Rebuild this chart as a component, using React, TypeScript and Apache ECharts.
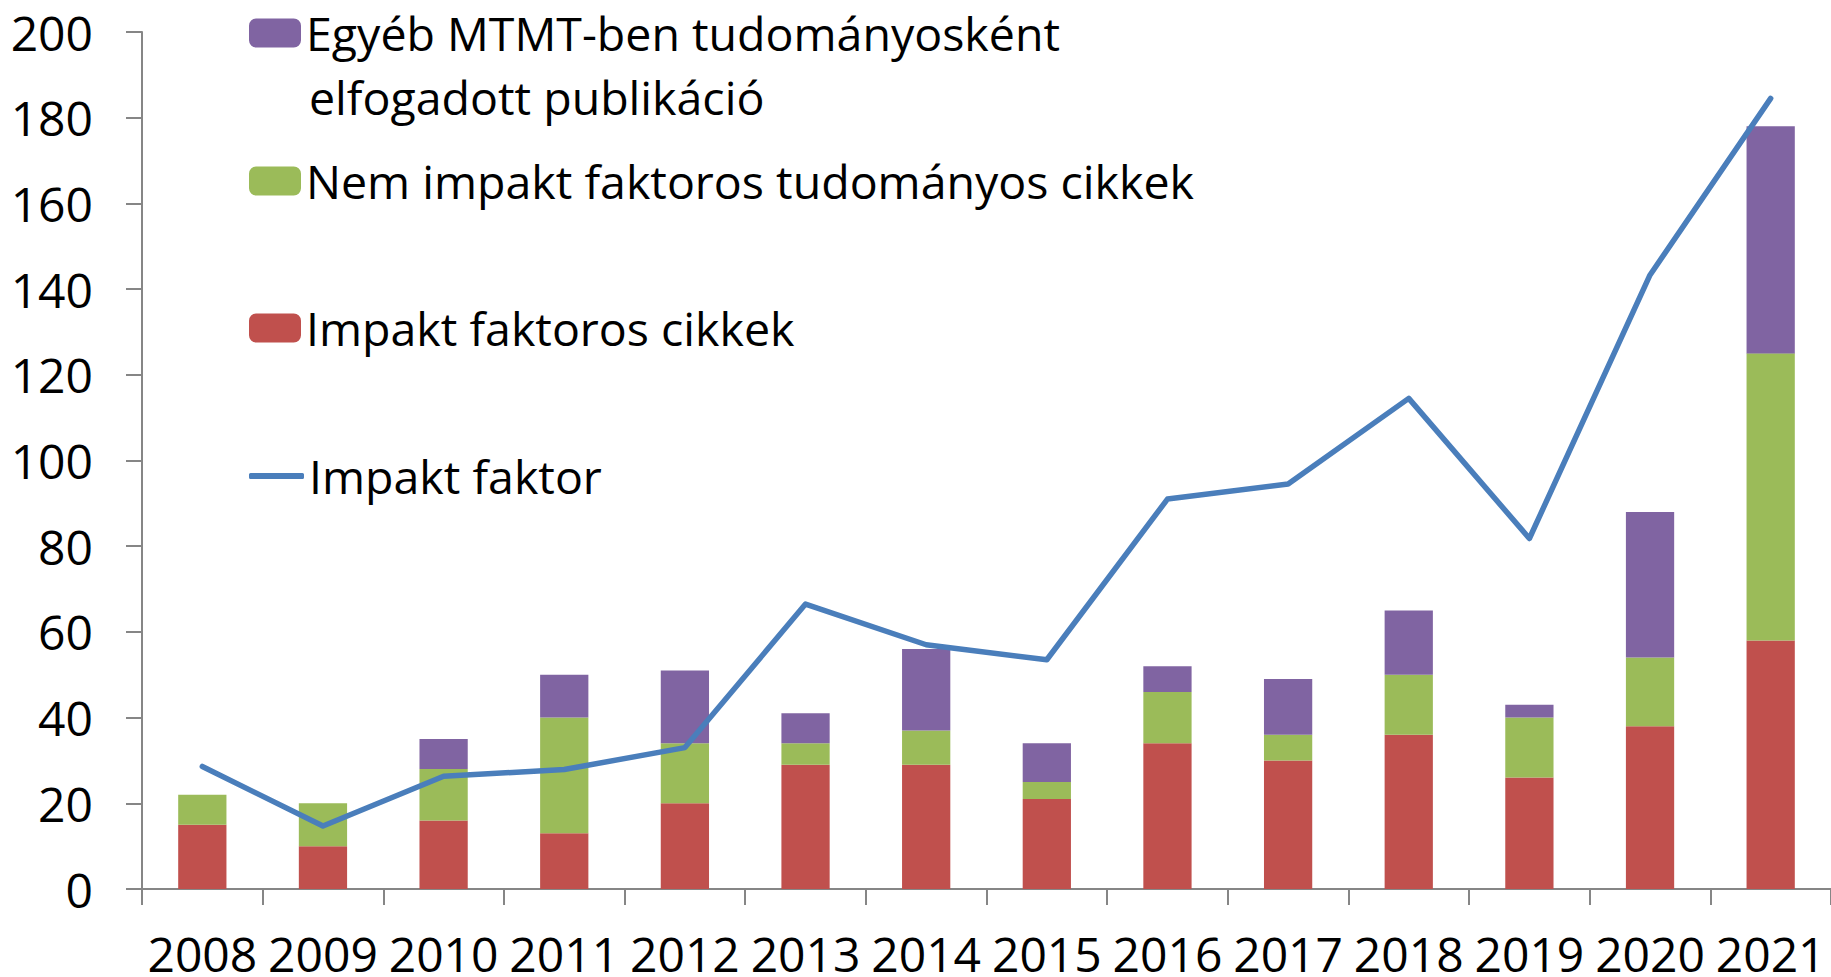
import React, { useEffect, useRef } from "react";
import * as echarts from "echarts";

const years = ["2008", "2009", "2010", "2011", "2012", "2013", "2014", "2015", "2016", "2017", "2018", "2019", "2020", "2021"];
// stacked components (top of each segment minus the one below)
const impaktCikkek = [15, 10, 16, 13, 20, 29, 29, 21, 34, 30, 36, 26, 38, 58];
const nemImpakt = [7, 10, 12, 27, 14, 5, 8, 4, 12, 6, 14, 14, 16, 67];
const egyeb = [0, 0, 7, 10, 17, 7, 19, 9, 6, 13, 15, 3, 34, 53];
const impaktFaktor = [28.6, 14.7, 26.3, 27.9, 33.0, 66.5, 57.0, 53.5, 91.0, 94.5, 114.5, 81.8, 143.3, 184.5];

const nameEgyeb = "Egyéb MTMT-ben tudományosként elfogadott publikáció";
const nameNem = "Nem impakt faktoros tudományos cikkek";
const nameImp = "Impakt faktoros cikkek";
const nameIF = "Impakt faktor";

const FONT = '"Open Sans", "Noto Sans", sans-serif';
const LEG_FS = 46.5;

export default function App() {
  const ref = useRef<HTMLDivElement>(null);
  useEffect(() => {
    document.body.style.margin = "0";
    const chart = echarts.init(ref.current!, null, { renderer: "svg" });
    const textStyle = { fontFamily: FONT, fontSize: LEG_FS, color: "#000", lineHeight: 56 };
    const legendBase = {
      orient: "vertical",
      left: 249,
      padding: 0,
      itemWidth: 52,
      itemHeight: 29,
      textStyle,
      selectedMode: false,
    };
    chart.setOption({
      animation: false,
      backgroundColor: "#fff",
      textStyle: { fontFamily: FONT },
      grid: { left: 142, right: 0, top: 32, bottom: 88, containLabel: false },
      legend: [
        { ...legendBase, top: 33 - 28, data: [nameEgyeb], formatter: () => "Egyéb MTMT-ben tudományosként" },
        { ...legendBase, top: 181 - 28, data: [nameNem] },
        { ...legendBase, top: 328 - 28, data: [nameImp] },
        {
          ...legendBase,
          top: 476 - 28,
          itemWidth: 55,
          data: [{ name: nameIF, icon: "roundRect" }],
          itemHeight: 6,
          itemStyle: { color: "#4A7EBB", borderWidth: 0 },
        },
      ],
      graphic: [
        {
          type: "text",
          left: 309,
          top: 97 - 28,
          style: { text: "elfogadott publikáció", font: `${LEG_FS}px ${FONT}`, fill: "#000", lineHeight: 56 },
        },
      ],
      xAxis: {
        type: "category",
        data: years,
        axisLine: { lineStyle: { color: "#868686", width: 2 } },
        axisTick: { show: true, length: 16, lineStyle: { color: "#868686", width: 2 } },
        axisLabel: {
          interval: 0,
          hideOverlap: false,
          color: "#000",
          fontSize: 48,
          fontFamily: FONT,
          lineHeight: 40,
          margin: 44,
        },
      },
      yAxis: {
        type: "value",
        min: 0,
        max: 200,
        interval: 20,
        splitLine: { show: false },
        axisLine: { show: true, lineStyle: { color: "#868686", width: 2 } },
        axisTick: { show: true, length: 16, lineStyle: { color: "#868686", width: 2 } },
        axisLabel: { color: "#000", fontSize: 48, fontFamily: FONT, margin: 49 },
      },
      series: [
        { name: nameImp, type: "bar", stack: "a", data: impaktCikkek, barWidth: "40%", itemStyle: { color: "#C0504D" } },
        { name: nameNem, type: "bar", stack: "a", data: nemImpakt, barWidth: "40%", itemStyle: { color: "#9BBB59" } },
        { name: nameEgyeb, type: "bar", stack: "a", data: egyeb, barWidth: "40%", itemStyle: { color: "#8064A2" } },
        {
          name: nameIF,
          type: "line",
          data: impaktFaktor,
          symbol: "none",
          lineStyle: { color: "#4A7EBB", width: 5.5, cap: "round", join: "round" },
          itemStyle: { color: "#4A7EBB" },
          z: 5,
        },
      ],
    });
    return () => chart.dispose();
  }, []);
  return <div ref={ref} style={{ width: 1831, height: 977 }} />;
}
